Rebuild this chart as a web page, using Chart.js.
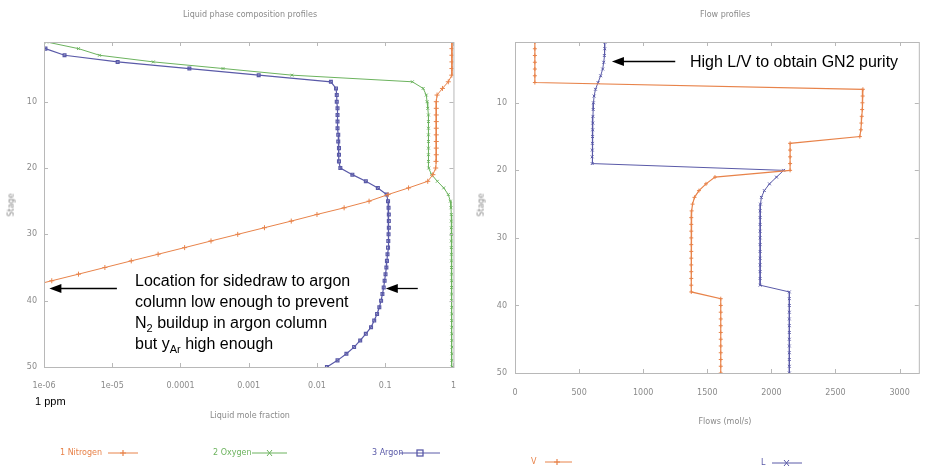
<!DOCTYPE html>
<html>
<head>
<meta charset="utf-8">
<script src="https://cdn.jsdelivr.net/npm/chart.js@4.4.1/dist/chart.umd.min.js"></script>
<style>
  body { margin: 0; background: #fff; width: 925px; height: 469px; overflow: hidden; position: relative; font-family: "DejaVu Sans", sans-serif; }
  .box { position: absolute; top: 0; height: 469px; }
  .t { position: absolute; font-size: 8px; color: #8a8a8a; white-space: nowrap; line-height: 10px; }
  .c { transform: translateX(-50%); }
  .note { position: absolute; font-family: "Liberation Sans", Arial, sans-serif; font-size: 16px; line-height: 21px; color: #000; white-space: nowrap; }
  .note sub { font-size: 11px; line-height: 0; }
  .lg { position: absolute; font-size: 8px; line-height: 10px; white-space: nowrap; }
</style>
</head>
<body>

<div class="box" style="left:0;width:470px"><canvas id="compChart" width="470" height="469"></canvas></div>
<div class="box" style="left:470px;width:455px"><canvas id="flowChart" width="455" height="469"></canvas></div>

<!-- titles / axis titles -->
<div class="t c" style="left:250px;top:10px">Liquid phase composition profiles</div>
<div class="t c" style="left:725px;top:10px">Flow profiles</div>
<div class="t c" style="left:250px;top:411px">Liquid mole fraction</div>
<div class="t c" style="left:725px;top:417px">Flows (mol/s)</div>
<div class="t" style="left:0px;top:200px;transform:rotate(-90deg)">Stage</div>
<div class="t" style="left:470px;top:200px;transform:rotate(-90deg)">Stage</div>

<!-- annotations -->
<div class="note" style="left:135px;top:270px">Location for sidedraw to argon<br>column low enough to prevent<br>N<sub>2</sub> buildup in argon column<br>but y<sub>Ar</sub> high enough</div>
<div class="note" style="left:690px;top:51px">High L/V to obtain GN2 purity</div>
<div class="note" style="left:35px;top:395px;font-size:11px;line-height:13px">1 ppm</div>

<!-- legends -->
<div class="lg" style="left:60px;top:448px;color:#e8834a">1 Nitrogen</div>
<svg style="position:absolute;left:108px;top:448px" width="32" height="10"><line x1="0" y1="5" x2="30" y2="5" stroke="#e8834a" stroke-width="1"/><path d="M12 5h6M15 2v6" stroke="#e8834a" stroke-width="1.2"/></svg>
<div class="lg" style="left:213px;top:448px;color:#6cb35e">2 Oxygen</div>
<svg style="position:absolute;left:252px;top:448px" width="36" height="10"><line x1="0" y1="5" x2="35" y2="5" stroke="#6cb35e" stroke-width="1"/><path d="M15 2l5 6M20 2l-5 6" stroke="#6cb35e" stroke-width="1"/></svg>
<div class="lg" style="left:372px;top:448px;color:#5a5aa8">3 Argon</div>
<svg style="position:absolute;left:400px;top:448px" width="40" height="10"><line x1="0" y1="5" x2="40" y2="5" stroke="#5a5aa8" stroke-width="1"/><rect x="17" y="2" width="6" height="6" fill="none" stroke="#5a5aa8" stroke-width="1.3"/></svg>
<div class="lg" style="left:531px;top:457px;color:#e8834a">V</div>
<svg style="position:absolute;left:545px;top:457px" width="28" height="10"><line x1="0" y1="5" x2="27" y2="5" stroke="#e8834a" stroke-width="1"/><path d="M9 5h6M12 2v6" stroke="#e8834a" stroke-width="1.2"/></svg>
<div class="lg" style="left:761px;top:458px;color:#5a5aa8">L</div>
<svg style="position:absolute;left:772px;top:458px" width="30" height="10"><line x1="0" y1="5" x2="30" y2="5" stroke="#5a5aa8" stroke-width="1"/><path d="M12 2l5 6M17 2l-5 6" stroke="#5a5aa8" stroke-width="1"/></svg>

<script>
// stage numbers, top of column = 1
const stages = [1, 2, 3, 4, 5, 6, 7, 8, 9, 10,
  11, 12, 13, 14, 15, 16, 17, 18, 19, 20,
  21, 22, 23, 24, 25, 26, 27, 28, 29, 30,
  31, 32, 33, 34, 35, 36, 37, 38, 39, 40,
  41, 42, 43, 44, 45, 46, 47, 48, 49, 50];

// liquid mole fractions
const nitrogen = [0.95, 0.95, 0.95, 0.95, 0.95, 0.945, 0.84, 0.69, 0.575, 0.56,
  0.56, 0.56, 0.56, 0.56, 0.56, 0.56, 0.56, 0.56, 0.555, 0.55,
  0.5, 0.42, 0.22, 0.11, 0.058, 0.025, 0.01, 0.0042, 0.0017, 6.9e-4,
  2.8e-4, 1.15e-4, 4.7e-5, 1.9e-5, 7.8e-6, 3.2e-6, 1.3e-6, 5.2e-7, 2.1e-7, null,
  null, null, null, null, null, null, null, null, null, null];
const oxygen = [1.1e-6, 3.2e-6, 6.5e-6, 4.0e-5, 4.2e-4, 4.3e-3, 0.25, 0.36, 0.4, 0.41,
  0.42, 0.43, 0.43, 0.43, 0.43, 0.43, 0.43, 0.43, 0.43, 0.435,
  0.48, 0.58, 0.72, 0.84, 0.9, 0.92, 0.93, 0.93, 0.93, 0.93,
  0.93, 0.93, 0.935, 0.935, 0.935, 0.94, 0.94, 0.94, 0.94, 0.94,
  0.945, 0.945, 0.945, 0.945, 0.945, 0.95, 0.95, 0.95, 0.95, 0.95];
const argon = [8e-7, 1.05e-6, 2.0e-6, 1.2e-5, 1.35e-4, 1.4e-3, 0.016, 0.019, 0.0195, 0.0195,
  0.02, 0.02, 0.02, 0.02, 0.0205, 0.0205, 0.021, 0.021, 0.021, 0.022,
  0.033, 0.052, 0.078, 0.105, 0.11, 0.112, 0.113, 0.113, 0.113, 0.112,
  0.111, 0.11, 0.108, 0.106, 0.104, 0.101, 0.098, 0.095, 0.091, 0.087,
  0.082, 0.076, 0.069, 0.062, 0.052, 0.043, 0.035, 0.027, 0.02, 0.014];

// flows (mol/s)
const vapour = [155, 155, 155, 155, 155, 155, 155, 2714, 2712, 2710,
  2708, 2705, 2702, 2698, 2690, 2146, 2146, 2146, 2146, 2146,
  1560, 1490, 1435, 1400, 1385, 1378, 1375, 1375, 1375, 1375,
  1375, 1375, 1375, 1375, 1375, 1375, 1375, 1375, 1605, 1605,
  1605, 1605, 1605, 1605, 1605, 1605, 1605, 1605, 1605, 1605];
const liquid = [702, 700, 697, 692, 684, 668, 648, 628, 617, 612,
  610, 608, 607, 606, 605, 604, 603, 602, 602, 2096,
  2040, 1985, 1945, 1922, 1915, 1912, 1912, 1912, 1912, 1912,
  1912, 1912, 1912, 1912, 1912, 1912, 1912, 2140, 2140, 2140,
  2140, 2140, 2140, 2140, 2140, 2140, 2140, 2140, 2140, 2140];

const fracTicks = [1e-6, 1e-5, 1e-4, 1e-3, 0.01, 0.1, 1];
const fracLabels = ['1e-06', '1e-05', '0.0001', '0.001', '0.01', '0.1', '1'];
const stageTicks = [10, 20, 30, 40, 50];
const flowTicks = [0, 500, 1000, 1500, 2000, 2500, 3000];

const ORANGE = '#e8834a', GREEN = '#6cb35e', BLUE = '#5a5aa8';

function pairs(xs) {
  return stages.map((s, i) => ({ x: xs[i], y: s })).filter(p => p.x !== null);
}

// gnuplot-ish frame with inward ticks
const framePlugin = {
  id: 'frame',
  afterDraw(chart) {
    const { ctx, chartArea: a, scales: { x, y } } = chart;
    ctx.save();
    ctx.strokeStyle = '#b8b8b8';
    ctx.lineWidth = 1;
    ctx.strokeRect(a.left + 0.5, a.top + 0.5, a.right - a.left, a.bottom - a.top);
    ctx.beginPath();
    x.ticks.forEach(t => {
      const px = Math.round(x.getPixelForValue(t.value)) + 0.5;
      ctx.moveTo(px, a.bottom); ctx.lineTo(px, a.bottom - 4);
      ctx.moveTo(px, a.top); ctx.lineTo(px, a.top + 4);
    });
    y.ticks.forEach(t => {
      const py = Math.round(y.getPixelForValue(t.value)) + 0.5;
      ctx.moveTo(a.left, py); ctx.lineTo(a.left + 4, py);
      ctx.moveTo(a.right, py); ctx.lineTo(a.right - 4, py);
    });
    ctx.stroke();
    ctx.restore();
  }
};

// black annotation arrows, placed in data units
const arrowPlugin = {
  id: 'arrows',
  afterDraw(chart, args, opts) {
    const { ctx, scales: { x, y } } = chart;
    (opts.items || []).forEach(a => {
      const x1 = x.getPixelForValue(a.from);
      const x2 = x.getPixelForValue(a.to);
      const yy = Math.round(y.getPixelForValue(a.stage)) + 0.5;
      ctx.save();
      ctx.strokeStyle = '#000';
      ctx.fillStyle = '#000';
      ctx.lineWidth = 1.3;
      ctx.beginPath(); ctx.moveTo(x1, yy); ctx.lineTo(x2 + 8, yy); ctx.stroke();
      ctx.beginPath(); ctx.moveTo(x2, yy); ctx.lineTo(x2 + 12, yy - 4.5); ctx.lineTo(x2 + 12, yy + 4.5); ctx.closePath(); ctx.fill();
      ctx.restore();
    });
  }
};

const tickFont = { family: 'DejaVu Sans', size: 8 };

function stageAxis(width, pad) {
  return {
    type: 'linear', reverse: true, min: 1, max: 50,
    afterFit: s => { s.width = width; },
    afterBuildTicks: s => { s.ticks = stageTicks.map(v => ({ value: v })); },
    grid: { display: false, drawTicks: false },
    border: { display: false },
    ticks: { font: tickFont, color: '#8a8a8a', padding: pad }
  };
}

new Chart(document.getElementById('compChart'), {
  type: 'scatter',
  data: {
    datasets: [
      { label: '1 Nitrogen', data: pairs(nitrogen), showLine: true, borderColor: ORANGE, backgroundColor: ORANGE,
        borderWidth: 1, pointStyle: 'cross', pointRadius: 2.5, pointBorderWidth: 1 },
      { label: '2 Oxygen', data: pairs(oxygen), showLine: true, borderColor: GREEN, backgroundColor: GREEN,
        borderWidth: 1, pointStyle: 'crossRot', pointRadius: 2, pointBorderWidth: 1 },
      { label: '3 Argon', data: pairs(argon), showLine: true, borderColor: BLUE, backgroundColor: 'rgba(90,90,168,0.25)',
        borderWidth: 1.2, pointStyle: 'rect', pointRadius: 2, pointBorderWidth: 1.2 }
    ]
  },
  options: {
    responsive: false,
    animation: false,
    layout: { padding: { top: 42, right: 15, left: 0, bottom: 0 } },
    scales: {
      x: {
        type: 'logarithmic', min: 1e-6, max: 1,
        afterFit: s => { s.height = 102; },
        afterBuildTicks: s => { s.ticks = fracTicks.map(v => ({ value: v })); },
        grid: { display: false, drawTicks: false },
        border: { display: false },
        ticks: { font: tickFont, color: '#8a8a8a', padding: 14, autoSkip: false, maxRotation: 0,
          callback: v => fracLabels[fracTicks.findIndex(t => Math.abs(t - v) / t < 1e-6)] }
      },
      y: stageAxis(44, 7)
    },
    plugins: {
      legend: { display: false },
      tooltip: { enabled: false },
      arrows: { items: [
        { stage: 38.1, from: 1.17e-5, to: 1.2e-6 },
        { stage: 38.1, from: 0.3, to: 0.102 }
      ] }
    }
  },
  plugins: [framePlugin, arrowPlugin]
});

new Chart(document.getElementById('flowChart'), {
  type: 'scatter',
  data: {
    datasets: [
      { label: 'V', data: pairs(vapour), showLine: true, borderColor: ORANGE, backgroundColor: ORANGE,
        borderWidth: 1.2, pointStyle: 'cross', pointRadius: 2, pointBorderWidth: 1 },
      { label: 'L', data: pairs(liquid), showLine: true, borderColor: BLUE, backgroundColor: BLUE,
        borderWidth: 1, pointStyle: 'crossRot', pointRadius: 2, pointBorderWidth: 1 }
    ]
  },
  options: {
    responsive: false,
    animation: false,
    layout: { padding: { top: 42, right: 2, left: 0, bottom: 0 } },
    scales: {
      x: {
        type: 'linear', min: 0, max: 3150,
        afterFit: s => { s.height = 96; },
        afterBuildTicks: s => { s.ticks = flowTicks.map(v => ({ value: v })); },
        grid: { display: false, drawTicks: false },
        border: { display: false },
        ticks: { font: tickFont, color: '#8a8a8a', padding: 15, autoSkip: false, maxRotation: 0,
          callback: v => String(v) }
      },
      y: stageAxis(45, 8)
    },
    plugins: {
      legend: { display: false },
      tooltip: { enabled: false },
      arrows: { items: [ { stage: 3.8, from: 1250, to: 756 } ] }
    }
  },
  plugins: [framePlugin, arrowPlugin]
});
</script>
</body>
</html>
